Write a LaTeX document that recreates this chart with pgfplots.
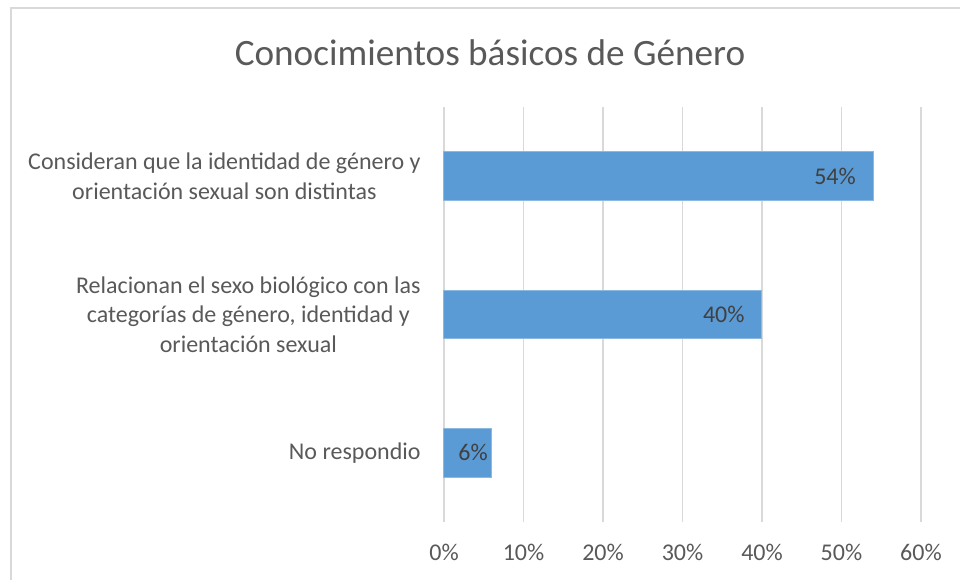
\documentclass[border=0pt]{standalone}
\usepackage{fontspec}
\setmainfont{Carlito}
\usepackage{pgfplots}
\pgfplotsset{compat=1.18}
\definecolor{barblue}{HTML}{5B9BD5}
\definecolor{gridgray}{HTML}{D9D9D9}
\definecolor{txtgray}{HTML}{595959}
\definecolor{valgray}{HTML}{404040}
\begin{document}
\begin{tikzpicture}[x=1pt,y=1pt]
\path[use as bounding box] (0,0) rectangle (480,290);
\draw[gridgray, line width=1pt] (5.25,0) -- (5.25,286) -- (480,286);
\node[txtgray, font=\fontsize{18.6}{22}\selectfont] at (245,263.5) {Conocimientos básicos de Género};
\begin{axis}[
  at={(222pt,29pt)}, anchor=south west,
  scale only axis,
  width=238.5pt, height=207.5pt,
  xbar, bar width=24.25pt, bar shift=0pt,
  xmin=0, xmax=60, ymin=-0.5, ymax=2.5,
  xtick={0,10,20,30,40,50,60},
  xticklabels={0\%,10\%,20\%,30\%,40\%,50\%,60\%},
  ytick={0,1,2},
  yticklabels={No respondio,
    {Relacionan el sexo biológico con las\\categorías de género, identidad y\\orientación sexual},
    {Consideran que la identidad de género y\\orientación sexual son distintas}},
  major tick length=0pt,
  axis line style={draw=none},
  xmajorgrids, major grid style={gridgray, line width=0.8pt},
  tick label style={txtgray, font=\fontsize{12}{14.75}\selectfont},
  xticklabel style={anchor=base, inner sep=0pt, yshift=-19pt},
  yticklabel style={anchor=east, align=center, inner sep=0pt, xshift=-11.5pt},
  /pgf/number format/assume math mode=true,
  nodes near coords={\pgfmathprintnumber{\pgfplotspointmeta}\%},
  every node near coord/.append style={anchor=east, valgray, inner sep=0pt, font=\fontsize{12}{14}\selectfont},
  clip=false,
]
\addplot[fill=barblue, draw=barblue!70!white, line width=0.5pt,
  every node near coord/.append style={xshift=-8.5pt}] coordinates {(40,1) (54,2)};
\addplot[fill=barblue, draw=barblue!70!white, line width=0.5pt,
  every node near coord/.append style={xshift=-1.75pt}] coordinates {(6,0)};
\end{axis}
\end{tikzpicture}
\end{document}
